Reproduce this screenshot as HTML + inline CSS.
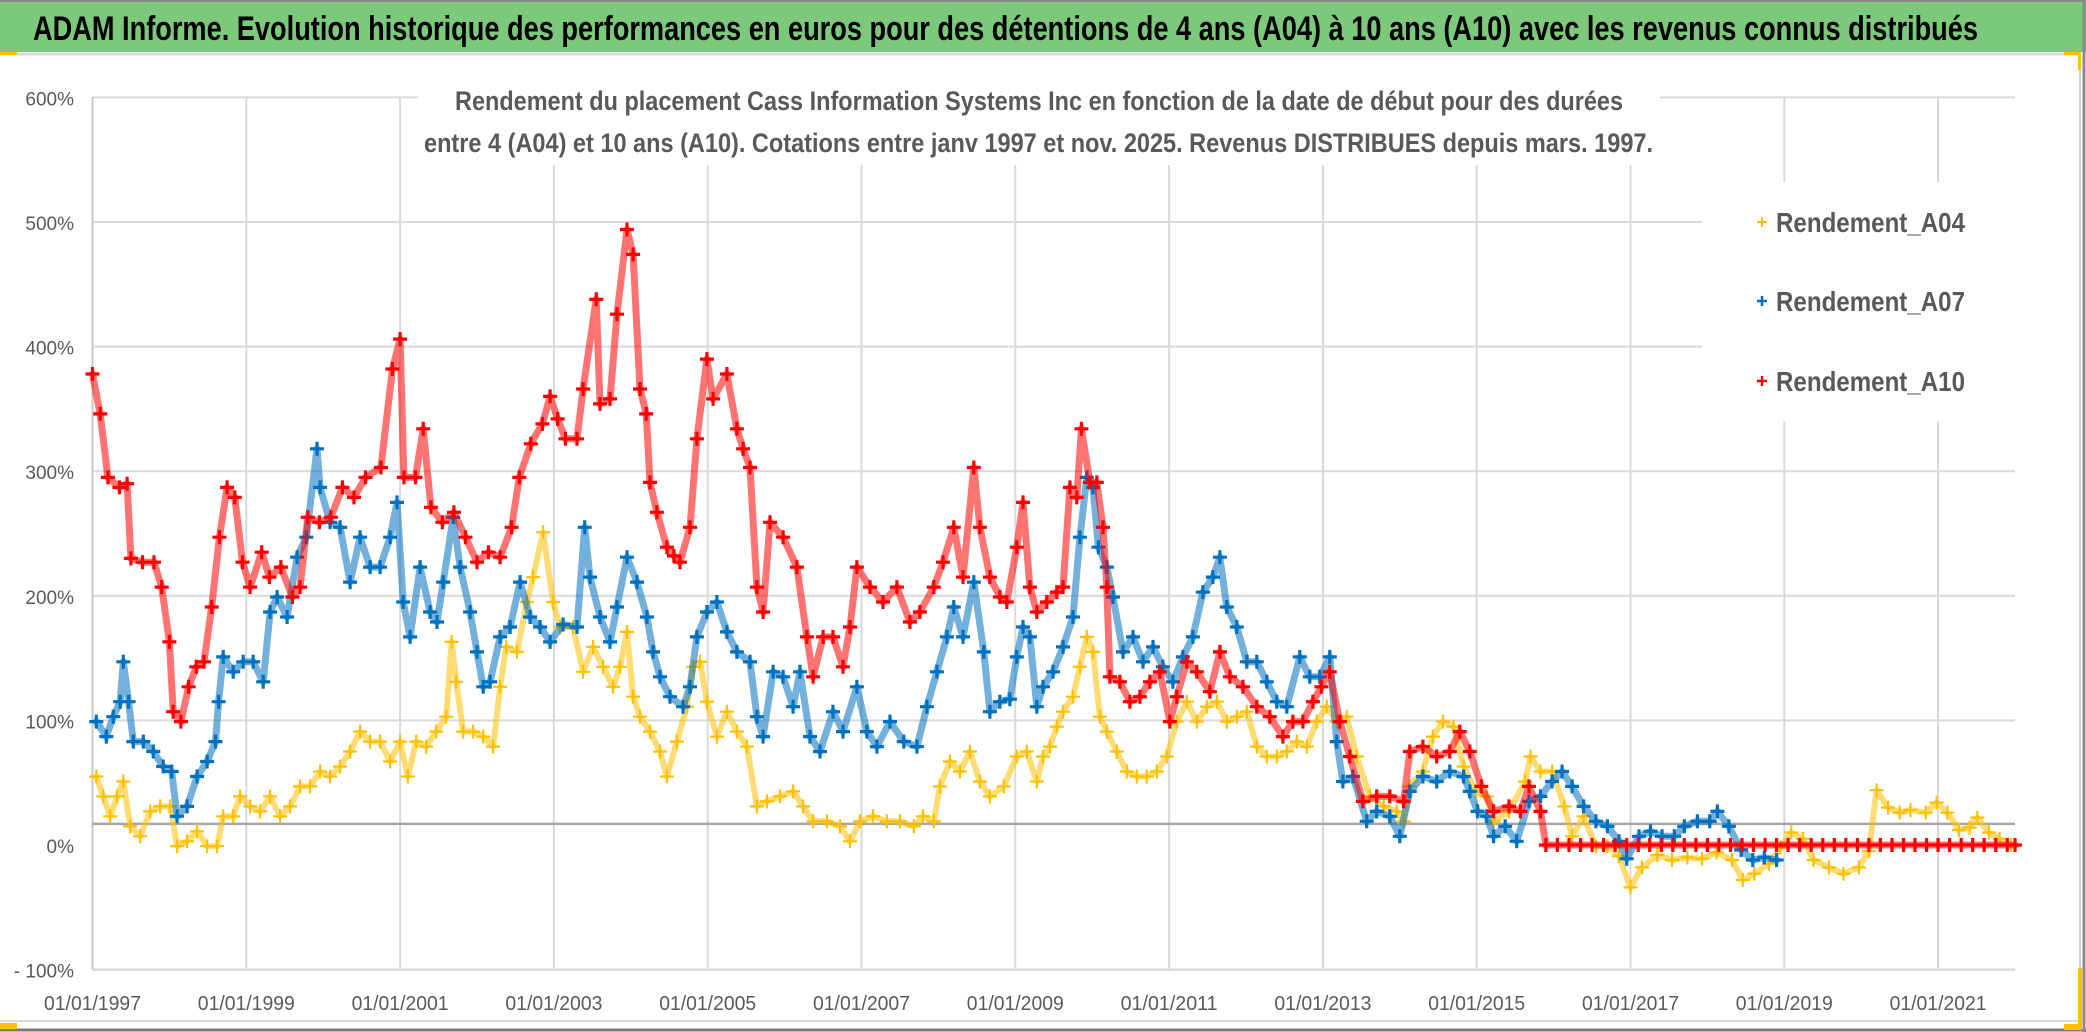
<!DOCTYPE html>
<html><head><meta charset="utf-8"><style>
html,body{margin:0;padding:0;background:#fff;}
svg{display:block;}
text{font-family:"Liberation Sans",sans-serif;}
</style></head><body>
<svg id="chart" width="2086" height="1032" viewBox="0 0 2086 1032" xmlns="http://www.w3.org/2000/svg">
<rect x="0" y="0" width="2086" height="1032" fill="#fff"/>
<rect x="0" y="0" width="2086" height="52" fill="#7DC97C"/>
<line x1="0" y1="1" x2="2086" y2="1" stroke="#8a8a8a" stroke-width="2"/>
<line x1="0" y1="54" x2="2080" y2="54" stroke="#d9d9d9" stroke-width="3"/>
<line x1="2080" y1="54" x2="2080" y2="1022" stroke="#d0d0d0" stroke-width="2"/>
<line x1="0" y1="1021" x2="2080" y2="1021" stroke="#d9d9d9" stroke-width="2"/>
<line x1="0" y1="1030" x2="2086" y2="1030" stroke="#7a7a7a" stroke-width="3"/>
<line x1="2084" y1="0" x2="2084" y2="1032" stroke="#8a8a8a" stroke-width="3"/>
<rect x="0" y="52" width="17" height="3" fill="#FFC000"/>
<rect x="0" y="1023" width="17" height="6" fill="#FFC000"/>
<rect x="2064" y="52" width="16" height="3" fill="#FFC000"/>
<rect x="2078" y="52" width="3" height="18" fill="#FFC000"/>
<rect x="2078" y="968" width="4" height="62" fill="#FFC000"/>
<rect x="2064" y="1024" width="18" height="6" fill="#FFC000"/>
<text x="33" y="40" font-size="34" font-weight="bold" fill="#000" textLength="1945" lengthAdjust="spacingAndGlyphs">ADAM Informe. Evolution historique des performances en euros pour des détentions de 4 ans (A04) à 10 ans (A10) avec les revenus connus distribués</text>
<g id="grid"></g>
<g id="marks"></g>
<rect x="418" y="68" width="1242" height="97" fill="#fff"/>
<text x="455" y="110" font-size="27" font-weight="bold" fill="#595959" textLength="1168" lengthAdjust="spacingAndGlyphs">Rendement du placement Cass Information Systems Inc en fonction de la date de début pour des durées</text>
<text x="424" y="152" font-size="27" font-weight="bold" fill="#595959" textLength="1229" lengthAdjust="spacingAndGlyphs">entre 4 (A04) et 10 ans (A10). Cotations entre janv 1997 et nov. 2025. Revenus DISTRIBUES depuis mars. 1997.</text>
<g>
<rect x="1702" y="182" width="313" height="239" fill="#fff"/>
<g>
<path d="M1757 222h10M1762 217v10" stroke="#FFC000" stroke-width="2"/>
<text x="1776" y="232" font-size="28" font-weight="bold" fill="#595959" textLength="189" lengthAdjust="spacingAndGlyphs">Rendement_A04</text></g>
<g>
<path d="M1757 301h10M1762 296v10" stroke="#0070C0" stroke-width="2.5"/>
<text x="1776" y="311" font-size="28" font-weight="bold" fill="#595959" textLength="189" lengthAdjust="spacingAndGlyphs">Rendement_A07</text></g>
<g>
<path d="M1757 381h10M1762 376v10" stroke="#FF0000" stroke-width="2.5"/>
<text x="1776" y="391" font-size="28" font-weight="bold" fill="#595959" textLength="189" lengthAdjust="spacingAndGlyphs">Rendement_A10</text></g>
</g>
<g id="axes"></g>
</svg>
<script>
const yTicks = [600, 500, 400, 300, 200, 100, 0, -100];
const yTickLabels = ["600%", "500%", "400%", "300%", "200%", "100%", "0%", "- 100%"];
const xTicks = [1997, 1999, 2001, 2003, 2005, 2007, 2009, 2011, 2013, 2015, 2017, 2019, 2021];
const xTickLabels = ["01/01/1997","01/01/1999","01/01/2001","01/01/2003","01/01/2005","01/01/2007","01/01/2009","01/01/2011","01/01/2013","01/01/2015","01/01/2017","01/01/2019","01/01/2021"];
const axisCross = 17;

const a04Dates = [1997.05,1997.14,1997.23,1997.32,1997.4,1997.49,1997.62,1997.75,1997.88,1998.01,1998.1,1998.23,1998.36,1998.49,1998.62,1998.7,1998.83,1998.92,1999.05,1999.18,1999.31,1999.44,1999.57,1999.7,1999.83,1999.96,2000.09,2000.22,2000.35,2000.48,2000.61,2000.74,2000.87,2001.0,2001.1,2001.21,2001.34,2001.47,2001.6,2001.67,2001.73,2001.82,2001.95,2002.08,2002.21,2002.3,2002.38,2002.52,2002.65,2002.73,2002.86,2002.99,2003.08,2003.25,2003.38,2003.51,2003.64,2003.77,2003.86,2003.95,2004.03,2004.12,2004.25,2004.38,2004.47,2004.6,2004.73,2004.81,2004.9,2004.99,2005.12,2005.25,2005.38,2005.51,2005.64,2005.77,2005.94,2006.11,2006.24,2006.37,2006.55,2006.72,2006.85,2006.98,2007.15,2007.33,2007.5,2007.68,2007.8,2007.94,2008.02,2008.15,2008.28,2008.41,2008.54,2008.67,2008.85,2009.02,2009.15,2009.28,2009.36,2009.45,2009.54,2009.62,2009.75,2009.84,2009.93,2010.01,2010.1,2010.19,2010.32,2010.45,2010.58,2010.71,2010.84,2010.97,2011.1,2011.23,2011.36,2011.49,2011.62,2011.75,2011.88,2012.01,2012.14,2012.27,2012.4,2012.53,2012.66,2012.79,2012.92,2013.05,2013.18,2013.31,2013.44,2013.61,2013.79,2013.96,2014.05,2014.13,2014.3,2014.43,2014.56,2014.7,2014.83,2014.99,2015.13,2015.22,2015.42,2015.63,2015.7,2015.83,2015.98,2016.14,2016.24,2016.39,2016.55,2016.7,2016.85,2017.0,2017.15,2017.35,2017.54,2017.74,2017.93,2018.12,2018.32,2018.46,2018.61,2018.8,2018.95,2019.09,2019.24,2019.38,2019.58,2019.77,2019.97,2020.1,2020.2,2020.35,2020.5,2020.64,2020.84,2020.98,2021.12,2021.27,2021.41,2021.51,2021.66,2021.8,2021.95];
const a04Values = [55,39,23,39,51,15,7,27,31,31,-1,3,11,-1,-1,23,23,39,31,27,39,23,31,47,47,59,55,63,75,91,83,83,67,83,55,83,79,91,103,163,131,91,91,87,79,127,159,155,195,215,251,195,175,175,139,159,143,127,143,171,119,103,91,75,55,83,111,143,147,115,87,107,91,79,31,35,39,43,31,19,19,15,3,19,23,19,19,15,23,19,47,67,59,75,51,39,47,71,75,51,71,79,95,107,119,143,167,155,103,91,75,59,55,55,59,71,99,115,99,111,115,99,103,107,79,71,71,75,83,79,99,111,99,103,71,39,31,27,19,47,59,87,99,95,63,43,39,19,27,51,71,59,59,31,7,23,-1,-1,-9,-34,-18,-8,-12,-10,-11,-6,-12,-28,-23,-15,-2,10,5,-12,-18,-23,-18,-5,44,30,26,28,26,34,26,12,14,22,10,5,0];

const a07Dates = [1997.05,1997.18,1997.27,1997.36,1997.4,1997.47,1997.53,1997.66,1997.79,1997.92,1998.03,1998.1,1998.23,1998.36,1998.49,1998.6,1998.64,1998.7,1998.83,1998.96,1999.09,1999.22,1999.31,1999.4,1999.53,1999.66,1999.78,1999.92,1999.96,2000.09,2000.22,2000.35,2000.48,2000.61,2000.74,2000.87,2000.96,2001.04,2001.13,2001.26,2001.39,2001.48,2001.56,2001.69,2001.78,2001.91,2002.0,2002.08,2002.17,2002.3,2002.43,2002.56,2002.69,2002.82,2002.95,2003.12,2003.3,2003.4,2003.47,2003.6,2003.73,2003.82,2003.95,2004.08,2004.21,2004.29,2004.38,2004.51,2004.68,2004.77,2004.86,2004.99,2005.12,2005.25,2005.38,2005.55,2005.64,2005.72,2005.85,2005.98,2006.11,2006.2,2006.33,2006.46,2006.63,2006.76,2006.94,2007.07,2007.2,2007.37,2007.55,2007.72,2007.85,2007.98,2008.11,2008.2,2008.32,2008.46,2008.59,2008.67,2008.8,2008.93,2009.02,2009.1,2009.19,2009.28,2009.36,2009.49,2009.62,2009.75,2009.84,2009.93,2010.01,2010.08,2010.19,2010.27,2010.4,2010.53,2010.66,2010.79,2010.92,2011.05,2011.18,2011.31,2011.44,2011.57,2011.66,2011.75,2011.88,2012.01,2012.14,2012.27,2012.4,2012.53,2012.7,2012.83,2012.96,2013.09,2013.18,2013.26,2013.39,2013.57,2013.7,2013.87,2014.0,2014.13,2014.3,2014.48,2014.65,2014.83,2014.91,2015.01,2015.13,2015.22,2015.37,2015.52,2015.68,2015.83,2015.98,2016.11,2016.24,2016.39,2016.55,2016.7,2016.85,2016.95,2017.11,2017.26,2017.41,2017.57,2017.7,2017.87,2018.03,2018.13,2018.28,2018.44,2018.59,2018.74,2018.9];
const a07Values = [99,87,103,115,147,115,83,83,75,63,59,23,31,55,67,83,115,151,139,147,147,131,187,199,183,231,247,318,287,259,255,211,247,223,223,247,275,195,167,223,187,179,211,263,223,187,155,127,131,167,175,211,183,175,163,177,175,255,215,183,163,191,231,211,183,155,135,119,111,127,167,187,195,171,155,147,103,87,139,135,111,139,87,75,107,91,127,91,79,99,83,79,111,139,167,191,167,211,155,107,115,117,151,175,167,111,127,139,159,183,247,295,287,239,223,199,155,167,147,159,143,131,151,167,203,215,231,191,175,147,147,131,115,111,151,135,135,151,83,51,55,19,27,23,7,43,55,51,59,55,43,27,23,7,15,3,35,39,51,59,47,31,19,15,3,-11,7,11,7,7,15,19,19,27,15,-4,-12,-10,-12];

const a10Dates = [1997.0,1997.1,1997.2,1997.35,1997.45,1997.5,1997.65,1997.8,1997.9,1998.0,1998.05,1998.15,1998.25,1998.35,1998.45,1998.55,1998.65,1998.75,1998.85,1998.95,1999.05,1999.2,1999.3,1999.45,1999.6,1999.7,1999.8,1999.95,2000.1,2000.25,2000.4,2000.55,2000.75,2000.9,2001.0,2001.05,2001.2,2001.3,2001.4,2001.55,2001.7,2001.85,2002.0,2002.15,2002.3,2002.45,2002.55,2002.7,2002.85,2002.95,2003.05,2003.15,2003.3,2003.38,2003.55,2003.6,2003.73,2003.82,2003.95,2004.03,2004.12,2004.2,2004.25,2004.34,2004.47,2004.56,2004.64,2004.77,2004.86,2004.99,2005.07,2005.25,2005.38,2005.46,2005.55,2005.64,2005.72,2005.81,2005.98,2006.16,2006.29,2006.37,2006.5,2006.63,2006.76,2006.85,2006.94,2007.11,2007.28,2007.46,2007.63,2007.76,2007.94,2008.06,2008.2,2008.32,2008.46,2008.54,2008.67,2008.8,2008.89,2009.02,2009.1,2009.19,2009.28,2009.41,2009.54,2009.62,2009.71,2009.8,2009.86,2009.97,2010.06,2010.14,2010.19,2010.23,2010.36,2010.49,2010.62,2010.75,2010.88,2011.01,2011.1,2011.23,2011.36,2011.53,2011.66,2011.79,2011.96,2012.14,2012.31,2012.48,2012.61,2012.74,2012.87,2012.98,2013.09,2013.22,2013.35,2013.52,2013.7,2013.87,2014.05,2014.13,2014.3,2014.48,2014.65,2014.78,2014.91,2015.06,2015.22,2015.42,2015.57,2015.68,2015.83,
2015.9,2016.05,2016.2,2016.35,2016.5,2016.65,2016.8,2016.95,2017.1,2017.25,2017.4,2017.55,2017.7,2017.85,2018.0,2018.15,2018.3,2018.45,2018.6,2018.75,2018.9,2019.05,2019.2,2019.35,2019.5,2019.65,2019.8,2019.95,2020.1,2020.25,2020.4,2020.55,2020.7,2020.85,2021.0,2021.15,2021.3,2021.45,2021.6,2021.75,2021.9,2022.0];
const a10Values = [378,346,295,287,290,230,227,227,207,163,107,99,127,143,147,191,247,287,279,227,207,235,215,223,199,207,263,259,263,287,279,295,303,382,406,295,295,334,271,259,267,247,227,235,231,255,295,322,338,360,342,326,326,366,438,354,358,426,494,474,366,346,291,267,239,232,227,255,326,390,358,378,334,318,303,207,187,259,247,223,167,135,167,167,143,175,223,207,195,207,179,187,207,227,255,215,303,255,215,199,195,239,275,207,187,195,203,207,287,279,334,291,291,255,207,135,131,115,119,131,139,99,119,147,139,123,155,135,127,111,103,87,99,99,115,127,139,99,71,35,39,39,35,75,79,71,75,91,75,47,27,31,27,47,27,
0,0,0,0,0,0,0,0,0,0,0,0,0,0,0,0,0,0,0,0,0,0,0,0,0,0,0,0,0,0,0,0,0,0,0,0,0,0,0,0,0,0];

const NS = "http://www.w3.org/2000/svg";
const X0 = 92.5, X1 = 2015;
function xS(yr){ return X0 + (yr - 1997) * 76.9; }
function yS(v){ return 845 - v * 1.246; }

const grid = document.getElementById('grid');
const axes = document.getElementById('axes');
const marks = document.getElementById('marks');
function mk(tag, attrs, parent){
  const e = document.createElementNS(NS, tag);
  for (const k in attrs) e.setAttribute(k, attrs[k]);
  parent.appendChild(e);
  return e;
}
yTicks.forEach(function(v){
  if (v <= 0) return;
  const l = mk('line', {x1:X0, x2:X1, y1:yS(v), y2:yS(v), stroke:'#d9d9d9', 'stroke-width':2}, grid);
  
  
});
xTicks.forEach(function(t){
  const l = mk('line', {x1:xS(t), x2:xS(t), y1:yS(600), y2:yS(-100), stroke:'#d9d9d9', 'stroke-width':2}, grid);
  
  
});
const base = mk('line', {x1:X0, x2:X1, y1:yS(-100), y2:yS(-100), stroke:'#d9d9d9', 'stroke-width':2.5}, grid);


const yAx = mk('line', {x1:X0, x2:X0, y1:yS(600), y2:yS(-100), stroke:'#c8c8c8', 'stroke-width':2}, grid);


const xAx = mk('line', {x1:X0, x2:X1, y1:yS(axisCross), y2:yS(axisCross), stroke:'#a6a6a6', 'stroke-width':2.5}, grid);



function drawSeries(dates, values, color, half, sw, bandW, name){
  const g = mk('g', {}, marks);
  
  
  let band = '';
  let d = '';
  for (let i = 0; i < dates.length; i++){
    const x = xS(dates[i]), y = yS(values[i]);
    band += (i ? 'L' : 'M') + x.toFixed(1) + ' ' + y.toFixed(1);
    d += 'M' + (x-half).toFixed(1) + ' ' + y.toFixed(1) + 'h' + (2*half) + 'M' + x.toFixed(1) + ' ' + (y-half).toFixed(1) + 'v' + (2*half);
  }
  const b = mk('path', {d:band, stroke:color, 'stroke-width':bandW, fill:'none', 'stroke-linejoin':'round', 'stroke-linecap':'round', opacity:0.55}, g);
  
  
  const p = mk('path', {d:d, stroke:color, 'stroke-width':sw, fill:'none'}, g);
  
  
}
drawSeries(a04Dates, a04Values, '#FFC000', 7, 2.2, 6, 'series-a04');
drawSeries(a07Dates, a07Values, '#0070C0', 7, 3.2, 7, 'series-a07');
drawSeries(a10Dates, a10Values, '#FF0000', 7, 3.2, 7, 'series-a10');

yTicks.forEach(function(v, i){
  const t = mk('text', {x:74, y:yS(v)+8, 'font-size':19, fill:'#595959', 'text-anchor':'end'}, axes);
  t.textContent = yTickLabels[i];
  
  
});
xTicks.forEach(function(tk, i){
  const t = mk('text', {x:xS(tk), y:1010, 'font-size':20, fill:'#595959', 'text-anchor':'middle', textLength:97, lengthAdjust:'spacingAndGlyphs'}, axes);
  t.textContent = xTickLabels[i];
  
  
});
</script>
</body></html>
